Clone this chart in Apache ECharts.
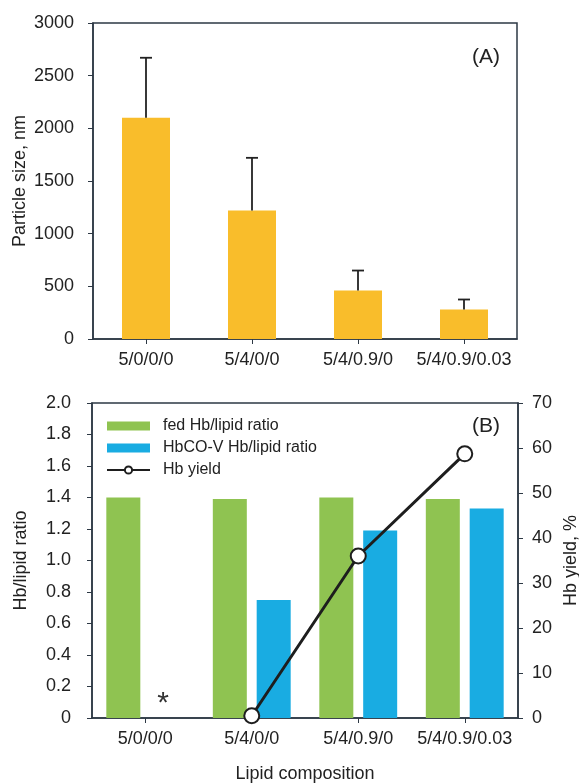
<!DOCTYPE html>
<html>
<head>
<meta charset="utf-8">
<script src="https://cdn.jsdelivr.net/npm/echarts@6/dist/echarts.min.js"></script>
<style>
  html, body { margin: 0; padding: 0; background: #fff; }
  #chart { width: 579px; height: 783px; }
</style>
</head>
<body>
<div id="chart"></div>
<script>
// categories shared by both panels
const compositions = ['5/0/0/0', '5/4/0/0', '5/4/0.9/0', '5/4/0.9/0.03'];
// panel A
const particleSize = [2100, 1220, 460, 280];
const particleSizeSD = [570, 500, 190, 95];
// panel B
const fedRatio = [1.40, 1.39, 1.40, 1.39];
const hbcoRatio = [0, 0.75, 1.19, 1.33];   // first one not measured (*)
const hbYield = [null, 0.5, 36, 58.7];

const ink = '#222';
const axisCol = '#2d3844';
const font = 'Liberation Sans, Arial, sans-serif';

const chart = echarts.init(document.getElementById('chart'));

const errData = particleSize.map((v, i) => [i, v, v + particleSizeSD[i]]);

const baseX = {
  type: 'category',
  data: compositions,
  axisLine: { lineStyle: { color: axisCol, width: 1.5 } },
  axisTick: { show: true, alignWithLabel: true, length: 5, lineStyle: { color: axisCol } },
  axisLabel: { color: ink, fontSize: 18, fontFamily: font, margin: 12, interval: 0 },
  splitLine: { show: false }
};
const baseY = {
  type: 'value',
  axisLine: { show: true, lineStyle: { color: axisCol, width: 1.5 } },
  axisTick: { show: true, length: 5, lineStyle: { color: axisCol } },
  axisLabel: { color: ink, fontSize: 18, fontFamily: font, margin: 19, formatter: v => String(v) },
  splitLine: { show: false },
  nameLocation: 'middle',
  nameRotate: 90,
  nameMoveOverlap: false,
  nameTextStyle: { color: ink, fontSize: 18, fontFamily: font }
};

const option = {
  animation: false,
  backgroundColor: '#fff',
  textStyle: { fontFamily: font },
  title: [
    { text: '(A)', left: 467, top: 42, textStyle: { fontSize: 21, fontWeight: 'normal', color: ink, fontFamily: font } },
    { text: '(B)', left: 467, top: 411, textStyle: { fontSize: 21, fontWeight: 'normal', color: ink, fontFamily: font } }
  ],
  grid: [
    { left: 93, right: 62, top: 23, height: 316, outerBoundsMode: 'none', show: true, borderColor: axisCol, borderWidth: 1.5 },
    { left: 92, right: 61, top: 403, height: 315, outerBoundsMode: 'none', show: true, borderColor: axisCol, borderWidth: 1.5 }
  ],
  legend: {
    orient: 'vertical',
    left: 101,
    top: 413,
    itemWidth: 43,
    itemHeight: 9,
    itemGap: 6,
    textStyle: { color: ink, fontSize: 16, fontFamily: font, padding: [0, 0, 0, 8] },
    data: [
      { name: 'fed Hb/lipid ratio', icon: 'rect' },
      { name: 'HbCO-V Hb/lipid ratio', icon: 'rect' },
      { name: 'Hb yield' }
    ]
  },
  xAxis: [
    Object.assign({}, baseX, { gridIndex: 0 }),
    Object.assign({}, baseX, {
      gridIndex: 1,
      name: 'Lipid composition',
      nameLocation: 'middle',
      nameGap: 47,
      nameMoveOverlap: false,
      nameTextStyle: { color: ink, fontSize: 18, fontFamily: font }
    })
  ],
  yAxis: [
    Object.assign({}, baseY, {
      gridIndex: 0, min: 0, max: 3000, interval: 500,
      name: 'Particle size, nm', nameGap: 64
    }),
    Object.assign({}, baseY, {
      gridIndex: 1, min: 0, max: 2, interval: 0.2,
      name: 'Hb/lipid ratio', nameGap: 62,
      axisLabel: Object.assign({}, baseY.axisLabel, {
        margin: 21,
        formatter: v => (v === 0 ? '0' : v.toFixed(1))
      })
    }),
    Object.assign({}, baseY, {
      gridIndex: 1, position: 'right', min: 0, max: 70, interval: 10,
      name: 'Hb yield, %', nameGap: 44,
      axisLabel: Object.assign({}, baseY.axisLabel, { margin: 14 })
    })
  ],
  series: [
    {
      name: 'Particle size',
      type: 'bar',
      xAxisIndex: 0, yAxisIndex: 0,
      barWidth: 48,
      itemStyle: { color: '#f9bd2b' },
      data: particleSize,
      z: 2
    },
    {
      name: 'Particle size SD',
      type: 'custom',
      xAxisIndex: 0, yAxisIndex: 0,
      data: errData,
      z: 3,
      renderItem: function (params, api) {
        const lo = api.coord([api.value(0), api.value(1)]);
        const hi = api.coord([api.value(0), api.value(2)]);
        const half = 6;
        const style = { stroke: ink, lineWidth: 1.8 };
        return {
          type: 'group',
          children: [
            { type: 'line', shape: { x1: lo[0], y1: lo[1], x2: hi[0], y2: hi[1] }, style: style },
            { type: 'line', shape: { x1: hi[0] - half, y1: hi[1], x2: hi[0] + half, y2: hi[1] }, style: style }
          ]
        };
      }
    },
    {
      name: 'fed Hb/lipid ratio',
      type: 'bar',
      xAxisIndex: 1, yAxisIndex: 1,
      barWidth: 34,
      barGap: '29%',
      itemStyle: { color: '#8fc351' },
      data: fedRatio
    },
    {
      name: 'HbCO-V Hb/lipid ratio',
      type: 'bar',
      xAxisIndex: 1, yAxisIndex: 1,
      barWidth: 34,
      barGap: '29%',
      itemStyle: { color: '#19ace2' },
      data: hbcoRatio.map((v, i) => i === 0 ? {
        value: v,
        label: { show: true, position: 'top', distance: -1, offset: [-4, 0], formatter: '*', fontSize: 30, color: '#333', fontFamily: font }
      } : v)
    },
    {
      name: 'Hb yield',
      type: 'line',
      xAxisIndex: 1, yAxisIndex: 2,
      data: hbYield,
      symbol: 'circle',
      symbolSize: 15,
      lineStyle: { color: '#1e1e1e', width: 3 },
      itemStyle: { color: '#fff', borderColor: '#1e1e1e', borderWidth: 2 },
      z: 5
    }
  ]
};

chart.setOption(option);
</script>
</body>
</html>
